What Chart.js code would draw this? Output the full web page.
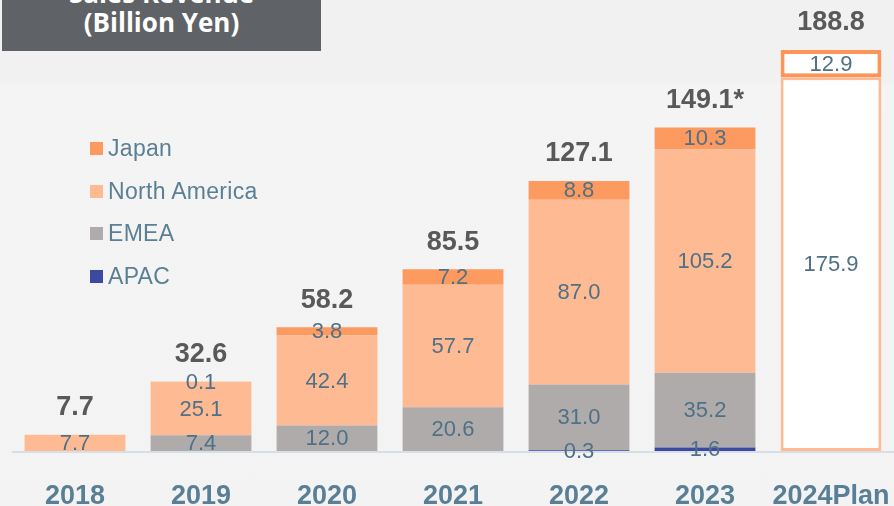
<!DOCTYPE html>
<html>
<head>
<meta charset="utf-8">
<script src="https://cdn.jsdelivr.net/npm/chart.js@4"></script>
<style>
    html, body { margin: 0; padding: 0; }
    body { width: 894px; height: 506px; overflow: hidden; background: #f2f2f2; font-family: "Liberation Sans", Arial, sans-serif; }
    #wrap { position: relative; width: 894px; height: 506px; background: linear-gradient(#f1f1f1 0px, #f1f1f1 83px, #f4f4f4 84px, #f3f3f3 506px); }
    #chart { position: absolute; left: 0; top: 0; }
    #title { position: absolute; left: 2px; top: 0; width: 319px; height: 51px; background: #5f6266; overflow: hidden; }
    #title div { position: absolute; left: 0; top: -21px; width: 100%; text-align: center; color: #fff; font: bold 26px/29px "Open Sans", "Liberation Sans", sans-serif; }
    #legend { position: absolute; left: 90px; top: 136px; }
    .item { height: 42.5px; display: flex; align-items: flex-start; color: #5b8094; font-size: 23px; line-height: 24px; letter-spacing: 0.3px; }
    .item span { display: inline-block; width: 13px; height: 13px; margin: 6px 5px 0 0; }
</style>
</head>
<body>
<div id="wrap">
    <canvas id="chart" width="894" height="506"></canvas>
    <div id="title"><div>Sales Revenue<br>(Billion Yen)</div></div>
    <div id="legend"></div>
</div>
<script>
// Sales revenue by region (billion yen)
const years = ['2018', '2019', '2020', '2021', '2022', '2023', '2024Plan'];
const apac = [null, null, null, null, 0.3, 1.6, null];
const emea = [null, 7.4, 12.0, 20.6, 31.0, 35.2, null];
const northAmerica = [7.7, 25.1, 42.4, 57.7, 87.0, 105.2, 175.9];
const japan = [null, 0.1, 3.8, 7.2, 8.8, 10.3, 12.9];
const totals = ['7.7', '32.6', '58.2', '85.5', '127.1', '149.1*', '188.8'];

const COLORS = {
    japan: '#fc9a5f',
    northAmerica: '#fdba93',
    emea: '#afabab',
    apac: '#3b4aa0'
};
const PLAN = years.length - 1;
const LABEL_COLOR = '#4e7186';
const FONT = '"Liberation Sans", Arial, sans-serif';

// legend (top to bottom)
const legendItems = [
    ['Japan', COLORS.japan],
    ['North America', COLORS.northAmerica],
    ['EMEA', COLORS.emea],
    ['APAC', COLORS.apac]
];
document.getElementById('legend').innerHTML = legendItems.map(([name, color]) =>
    `<div class="item"><span style="background:${color}"></span>${name}</div>`
).join('');

function planFill(color) {
    return ctx => ctx.dataIndex === PLAN ? '#ffffff' : color;
}

// value labels in the middle of each segment + totals above stacks
const labelsPlugin = {
    id: 'segLabels',
    afterDatasetsDraw(chart) {
        const c = chart.ctx;
        c.save();
        c.textAlign = 'center';
        c.textBaseline = 'middle';
        c.font = `22px ${FONT}`;
        c.fillStyle = LABEL_COLOR;
        const tops = [];
        chart.data.datasets.forEach((ds, di) => {
            const meta = chart.getDatasetMeta(di);
            meta.data.forEach((bar, i) => {
                const v = ds.data[i];
                if (v === null || v === undefined) return;
                const mid = (bar.y + bar.base) / 2;
                c.fillText(v.toFixed(1), bar.x, mid + 1);
                if (tops[i] === undefined || bar.y < tops[i].y) tops[i] = { x: bar.x, y: bar.y };
            });
        });
        c.font = `bold 27px ${FONT}`;
        c.fillStyle = '#595959';
        totals.forEach((t, i) => {
            if (tops[i]) c.fillText(t, tops[i].x, tops[i].y - 27);
        });
        c.restore();
    },
    beforeDatasetsDraw(chart) {
        // baseline
        const c = chart.ctx;
        const area = chart.chartArea;
        const y0 = chart.scales.y.getPixelForValue(0);
        c.save();
        c.strokeStyle = '#d5dfe5';
        c.lineWidth = 2;
        c.beginPath();
        c.moveTo(area.left, y0 + 1);
        c.lineTo(area.right, y0 + 1);
        c.stroke();
        c.restore();
    }
};

new Chart(document.getElementById('chart'), {
    type: 'bar',
    data: {
        labels: years,
        datasets: [
            { label: 'APAC', data: apac, backgroundColor: COLORS.apac },
            { label: 'EMEA', data: emea, backgroundColor: COLORS.emea },
            {
                label: 'North America', data: northAmerica,
                backgroundColor: planFill(COLORS.northAmerica),
                borderColor: COLORS.northAmerica,
                borderWidth: ctx => ctx.dataIndex === PLAN ? 3 : 0,
                borderSkipped: ctx => ctx.dataIndex === PLAN ? false : 'start'
            },
            {
                label: 'Japan', data: japan,
                backgroundColor: planFill(COLORS.japan),
                borderColor: '#fc9558',
                borderWidth: ctx => ctx.dataIndex === PLAN ? 4 : 0,
                borderSkipped: ctx => ctx.dataIndex === PLAN ? false : 'start'
            }
        ]
    },
    options: {
        responsive: false,
        animation: false,
        layout: { padding: { left: 12, right: 0, top: 0, bottom: 0 } },
        datasets: { bar: { barPercentage: 0.8, categoryPercentage: 1 } },
        plugins: {
            legend: { display: false },
            tooltip: { enabled: false }
        },
        scales: {
            x: {
                stacked: true,
                grid: { display: false, drawTicks: false },
                border: { display: false },
                ticks: {
                    color: '#587f95',
                    font: { family: FONT, size: 27, weight: 'bold' },
                    padding: 29,
                    maxRotation: 0,
                    autoSkip: false
                },
                afterFit(scale) {
                    scale.height = 55;
                    scale.paddingLeft = 0;
                    scale.paddingRight = 0;
                }
            },
            y: {
                stacked: true,
                display: false,
                min: 0,
                max: 212.3
            }
        }
    },
    plugins: [labelsPlugin]
});
</script>
</body>
</html>
